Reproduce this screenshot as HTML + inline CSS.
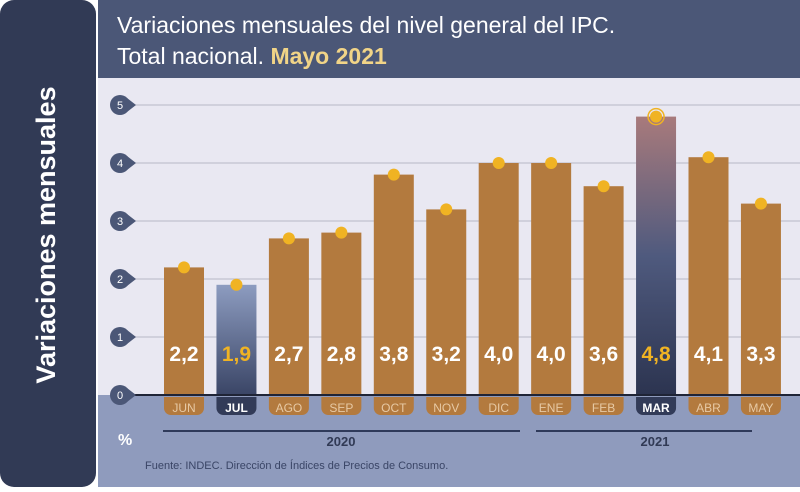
<!DOCTYPE html>
<html><head><meta charset="utf-8"><style>
body{margin:0;width:800px;height:487px;overflow:hidden;background:#fff;font-family:"Liberation Sans",sans-serif}
</style></head><body>
<svg id="c" width="800" height="487">
<defs>
<linearGradient id="gJul" x1="0" y1="0" x2="0" y2="1"><stop offset="0" stop-color="#8d9cc0"/><stop offset="1" stop-color="#3a4566"/></linearGradient>
<linearGradient id="gMar" x1="0" y1="0" x2="0" y2="1"><stop offset="0" stop-color="#a87a7c"/><stop offset="0.5" stop-color="#4f5a7e"/><stop offset="1" stop-color="#2c3450"/></linearGradient>
</defs>
<rect x="0" y="0" width="800" height="487" fill="#ffffff"/>
<rect x="0" y="0" width="96" height="487" rx="14" fill="#313a55"/>
<rect x="98" y="0" width="702" height="78" fill="#4b5777"/>
<rect x="98" y="78" width="702" height="317" fill="#e9e8f2"/>
<rect x="98" y="395" width="702" height="92" fill="#8f9bbd"/>
<text x="117" y="33" fill="#fff" font-size="23">Variaciones mensuales del nivel general del IPC.</text>
<text x="117" y="64" fill="#fff" font-size="23">Total nacional. <tspan fill="#f1d487" font-weight="bold">Mayo 2021</tspan></text>
<text transform="translate(55,235) rotate(-90)" text-anchor="middle" fill="#fff" font-size="27" font-weight="bold">Variaciones mensuales</text>
<g id="grid"></g><g id="bars"></g>
<line x1="120" y1="395" x2="800" y2="395" stroke="#1f2436" stroke-width="2"/>
<g id="ticks"></g>
<text x="118" y="445" fill="#fff" font-size="16" font-weight="bold">%</text>
<line x1="163" y1="431" x2="520" y2="431" stroke="#2f3a5a" stroke-width="2"/>
<line x1="536" y1="431" x2="752" y2="431" stroke="#2f3a5a" stroke-width="2"/>
<text x="341" y="446" text-anchor="middle" fill="#313a55" font-size="13" font-weight="bold">2020</text>
<text x="655" y="446" text-anchor="middle" fill="#313a55" font-size="13" font-weight="bold">2021</text>
<text x="145" y="469" fill="#3a4566" font-size="11">Fuente: INDEC. Dirección de Índices de Precios de Consumo.</text>
</svg>
<script>
const months=["JUN","JUL","AGO","SEP","OCT","NOV","DIC","ENE","FEB","MAR","ABR","MAY"];
const values=[2.2,1.9,2.7,2.8,3.8,3.2,4.0,4.0,3.6,4.8,4.1,3.3];
const highlight=["","jul","","","","","","","","mar","",""];
const yTicks=[0,1,2,3,4,5];
const ns="http://www.w3.org/2000/svg";
const y=v=>395-v*58;
const x=i=>184+i*52.45;
function mk(t,a,p){const e=document.createElementNS(ns,t);for(const k in a)e.setAttribute(k,a[k]);p.appendChild(e);return e;}
const grid=document.getElementById('grid'),bars=document.getElementById('bars'),ticks=document.getElementById('ticks');
yTicks.forEach(t=>{
 if(t>0){const l=mk('line',{x1:130,x2:800,y1:y(t),y2:y(t),stroke:'#c2c2d0','stroke-width':1.2},grid);
 
 }
 const c=mk('circle',{cx:120,cy:y(t),r:10,fill:'#4b5777'},ticks);
 
 
 mk('polygon',{points:`${127},${y(t)-7} ${136},${y(t)} ${127},${y(t)+7}`,fill:'#4b5777'},ticks);
 const tx=mk('text',{x:120,y:y(t)+4,'text-anchor':'middle',fill:'#fff','font-size':11},ticks);
 tx.textContent=t;
 
 
});
months.forEach((m,i)=>{
 const v=values[i],h=highlight[i];
 const fill=h==='jul'?'url(#gJul)':h==='mar'?'url(#gMar)':'#b37a3e';
 const r=mk('rect',{x:x(i)-20,y:y(v),width:40,height:395-y(v),fill:fill},bars);
 
 
 if(h==='mar'){mk('circle',{cx:x(i),cy:y(v),r:8,fill:'none',stroke:'#f0b323','stroke-width':1.5},bars);}
 const d=mk('circle',{cx:x(i),cy:y(v),r:6,fill:'#f0b323'},bars);
 
 
 const vt=mk('text',{x:x(i),y:361,'text-anchor':'middle',fill:h?'#f0b323':'#fff','font-size':21,'font-weight':'bold'},bars);
 vt.textContent=v.toFixed(1).replace('.',',');
 
 
 const pill=mk('path',{d:`M${x(i)-20},397 h40 v11 a7,7 0 0 1 -7,7 h-26 a7,7 0 0 1 -7,-7 Z`,fill:h?'#323b58':'#b37a3e'},bars);
 
 
 const mt=mk('text',{x:x(i),y:412,'text-anchor':'middle',fill:h?'#fff':'#e7c9a4','font-size':12,'font-weight':h?'bold':'normal'},bars);
 mt.textContent=m;
 
 
});
</script>
</body></html>
